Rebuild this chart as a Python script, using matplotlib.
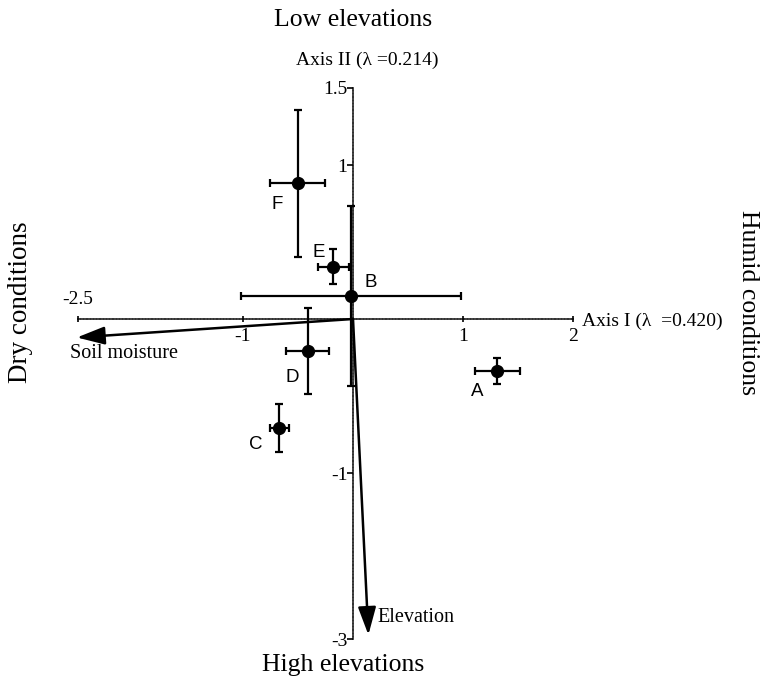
import numpy as np
import matplotlib
matplotlib.use("Agg")
import matplotlib.pyplot as plt

# site scores on the two ordination axes, with their spread
sites = ["A", "B", "C", "D", "E", "F"]
axis1 = [1.31, -0.02, -0.67, -0.41, -0.18, -0.50]
axis2 = [-0.34, 0.15, -0.71, -0.21, 0.34, 0.88]
err1 = [0.205, 1.00, 0.085, 0.195, 0.14, 0.25]
err2 = [0.085, 0.585, 0.155, 0.28, 0.115, 0.48]

# environmental vectors
vector_names = ["Soil moisture", "Elevation"]
vector_x = [-2.51, 0.14]
vector_y = [-0.12, -2.95]

xticks = [-2.5, -1, 1, 2]
yticks = [1.5, 1, -1, -3]

SERIF = ["Liberation Serif", "DejaVu Serif"]
SANS = ["Liberation Sans", "DejaVu Sans"]

# the printed axis II is compressed below -1
BREAK = -1.0
SQUEEZE = 83 / 154


def fwd(y):
    y = np.asarray(y, dtype=float)
    return np.where(y >= BREAK, y, BREAK + (y - BREAK) * SQUEEZE)


def inv(t):
    t = np.asarray(t, dtype=float)
    return np.where(t >= BREAK, t, BREAK + (t - BREAK) / SQUEEZE)


W, H = 762, 680
fig = plt.figure(figsize=(W / 100, H / 100), dpi=100)
ax = fig.add_axes([0, 0, 1, 1])
ax.set_yscale("function", functions=(fwd, inv))
ax.set_xlim(-353 / 110, (W - 353) / 110)
ax.set_ylim(inv((319 - H) / 154), 319 / 154)
ax.patch.set_visible(False)

for side in ["top", "right"]:
    ax.spines[side].set_visible(False)
ax.spines["left"].set_position(("data", 0))
ax.spines["bottom"].set_position(("data", 0))
ax.spines["left"].set_bounds(-3, 1.5)
ax.spines["bottom"].set_bounds(-2.5, 2)
for side in ["left", "bottom"]:
    ax.spines[side].set_linestyle((0, (1, 0.8)))
    ax.spines[side].set_linewidth(1.3)
    ax.spines[side].set_color("#333333")
    ax.spines[side].set_zorder(1)

ax.set_yticks(yticks)
ax.set_yticklabels(["1.5", "1", "-1", "-3"], fontfamily=SERIF, fontsize=14)
ax.tick_params(axis="y", direction="out", length=4, width=1.2, pad=0)
ax.set_xticks(xticks)
ax.set_xticklabels(["", "-1", "1", "2"], fontfamily=SERIF, fontsize=14)
ax.tick_params(axis="x", direction="inout", length=5, width=1.2, pad=4)
ax.minorticks_off()
ax.text(-2.5, 0.07, "-2.5", family=SERIF, fontsize=14, ha="center", va="bottom")

# vectors
for name, vx, vy in zip(vector_names, vector_x, vector_y):
    ax.annotate("", xy=(vx, vy), xytext=(0, 0),
                arrowprops=dict(arrowstyle="-|>,head_length=1.7,head_width=0.55",
                                mutation_scale=10, lw=1.8, color="black",
                                shrinkA=0, shrinkB=0), zorder=3)

ax.errorbar(axis1, axis2, xerr=err1, yerr=err2, fmt="o", color="black",
            ms=8.5, elinewidth=1.6, capsize=3.2, capthick=1.6, zorder=4)

offsets = {"A": (-20, -20), "B": (20, 13), "C": (-24, -16),
           "D": (-16, -26), "E": (-14, 14), "F": (-21, -21)}
for s, x, y in zip(sites, axis1, axis2):
    dx, dy = offsets[s]
    ax.annotate(s, (x, y), xytext=(dx * 0.72, dy * 0.72), textcoords="offset points",
                ha="center", va="center", family=SANS, fontsize=13.5)


def px(x, y):
    return x / W, 1 - y / H


fig.text(*px(353, 20), "Low elevations", family=SERIF, fontsize=18.5, ha="center", va="center")
fig.text(*px(343, 665), "High elevations", family=SERIF, fontsize=18.5, ha="center", va="center")
fig.text(*px(367, 60), "Axis II (\u03bb =0.214)", family=SERIF, fontsize=14, ha="center", va="center")
fig.text(*px(582, 321), "Axis I (\u03bb  =0.420)", family=SERIF, fontsize=14, ha="left", va="center")
fig.text(*px(70, 353), "Soil moisture", family=SERIF, fontsize=14.5, ha="left", va="center")
fig.text(*px(377, 617), "Elevation", family=SERIF, fontsize=14.5, ha="left", va="center")
fig.text(*px(21, 302), "Dry conditions", family=SERIF, fontsize=19.5, ha="center", va="center",
         rotation=90)
fig.text(*px(748, 303), "Humid conditions", family=SERIF, fontsize=18.5, ha="center", va="center",
         rotation=270)

fig.savefig("out.png", dpi=100)
